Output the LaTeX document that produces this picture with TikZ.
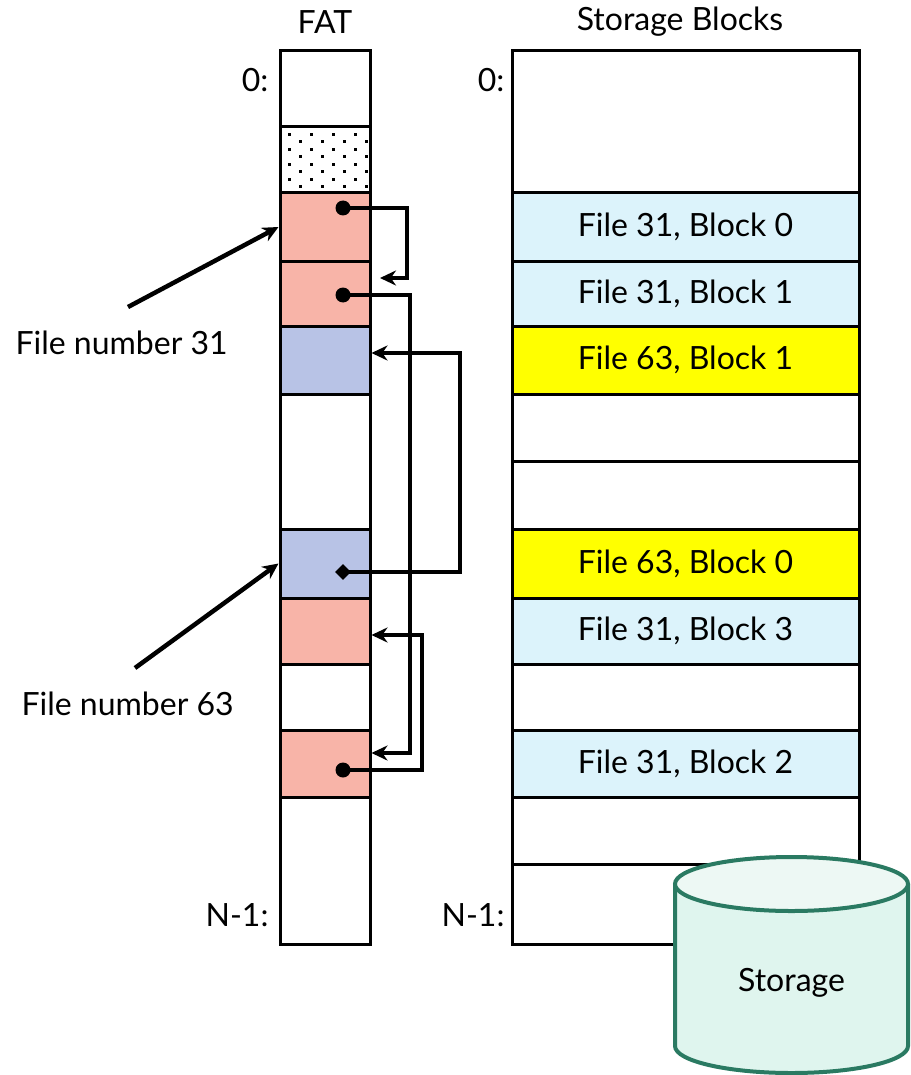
\documentclass[tikz,border=0pt]{standalone}
\usepackage{fontspec}
\setmainfont{Lato}
\usetikzlibrary{arrows.meta,shapes.geometric}

\definecolor{fatred}{HTML}{F8B4A8}
\definecolor{fatblue}{HTML}{B8C3E6}
\definecolor{blkcyan}{HTML}{DCF3FB}
\definecolor{blkyellow}{HTML}{FFFF00}
\definecolor{diskline}{HTML}{2A7A62}
\definecolor{diskfill}{HTML}{DFF5EE}
\definecolor{disktop}{HTML}{EDF8F4}

\begin{document}
\begin{tikzpicture}[x=1pt,y=-1pt,
    cell/.style={draw, line width=3pt, inner sep=0pt, minimum width=90pt},
    blk/.style={draw, line width=3pt, inner sep=0pt, minimum width=347pt, font=\fontsize{32}{32}\selectfont},
    lbl/.style={font=\fontsize{32}{32}\selectfont},
    link/.style={line width=4.5pt, -{Stealth[length=16pt,width=15pt]}},
    pointer/.style={line width=4.5pt, -{Stealth[length=16pt,width=15pt]}}]
    \useasboundingbox (0,0) rectangle (910,1075);
    % FAT column
    \foreach \t/\b/\c [count=\i] in {51/127/white, 127/193/white, 193/261/fatred, 261/326/fatred, 326/394/fatblue, 394/529/white, 529/598/fatblue, 598/664/fatred, 664/730/white, 730/797/fatred, 797/944/white}
        \node[cell, fill=\c, minimum height={(\b-\t)*1pt}] (f\i) at (325,{(\t+\b)/2}) {};
    % dotted cell
    \foreach \r in {0,...,7}
        \foreach \k in {0,...,3}
            \fill ({288+22*\k+11*mod(\r,2)},{133+7.5*\r}) rectangle ++(3,3);
    \node[lbl] (fat) at (325,22) {FAT};
    \node[lbl, anchor=east] (f0) at (272,80) {0:};
    \node[lbl, anchor=east] (fn) at (272,915) {N-1:};
    % storage blocks
    \foreach \t/\b/\c/\txt [count=\i] in {51/193/white/{}, 193/261/blkcyan/{File 31, Block 0}, 261/326/blkcyan/{File 31, Block 1}, 326/394/blkyellow/{File 63, Block 1}, 394/461/white/{}, 461/529/white/{}, 529/598/blkyellow/{File 63, Block 0}, 598/664/blkcyan/{File 31, Block 3}, 664/730/white/{}, 730/797/blkcyan/{File 31, Block 2}, 797/864/white/{}, 864/944/white/{}}
        \node[blk, fill=\c, minimum height={(\b-\t)*1pt}] (s\i) at (685.5,{(\t+\b)/2}) {\txt};
    \node[lbl] (sto) at (680,22) {Storage Blocks};
    \node[lbl, anchor=east] (s0) at (508,80) {0:};
    \node[lbl, anchor=east] (sn) at (508,915) {N-1:};
    % disk
    \draw[diskline, fill=diskfill, line width=4pt] (675,884) -- (675,1046)
        arc[start angle=180, end angle=0, x radius=116.5, y radius=27] -- (908,884);
    \draw[diskline, fill=disktop, line width=4pt] (791.5,884) ellipse[x radius=116.5, y radius=27];
    \node[lbl] (disk) at (791.5,983) {Storage};
    % file labels
    \node[lbl, anchor=west] (n31) at (12,343) {File number 31};
    \node[lbl, anchor=west] (n63) at (18,704) {File number 63};
    \coordinate (p31) at (128,307);
    \coordinate (p63) at (135,668);
    \draw[pointer] (p31) -- (f3.west);
    \draw[pointer] (p63) -- (f7.west);
    % chains
    \coordinate (d1) at (343,208);
    \coordinate (d2) at (343,295);
    \coordinate (d3) at (343,572);
    \coordinate (d4) at (343,770);
    \draw[link] (d1) -| (407,278) -- (380,278);
    \draw[link] (d2) -| (410,753) -- (f10.east |- 0,753);
    \draw[link] (d3) -| (460,353) -- (f5.east |- 0,353);
    \draw[link] (d4) -| (422,635) -- (f8.east |- 0,635);
    \fill (d1) circle (7.5);
    \fill (d2) circle (7.5);
    \fill (d4) circle (7.5);
    \node[diamond, fill, inner sep=0pt, minimum size=16pt] (k63) at (d3) {};
\end{tikzpicture}
\end{document}
